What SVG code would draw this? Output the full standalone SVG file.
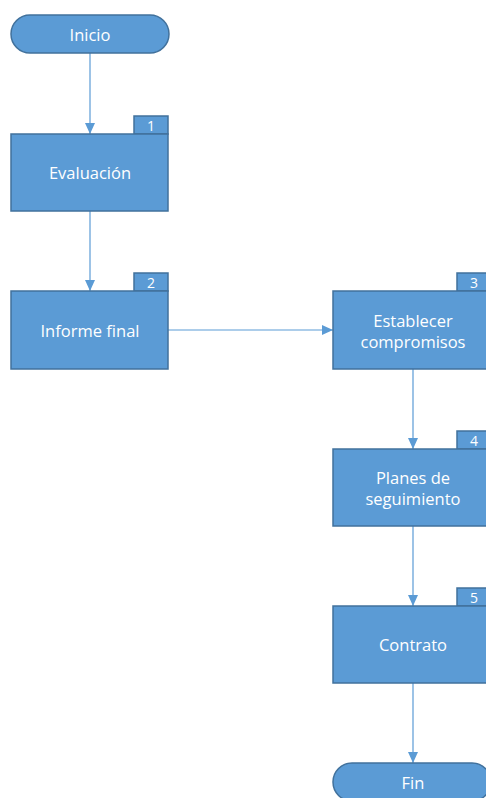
<svg xmlns="http://www.w3.org/2000/svg" width="486" height="798" viewBox="0 0 486 798">
<defs>
<style>
.sh{fill:#5B9BD5;stroke:#41719C;stroke-width:1.5}
.t{fill:#ffffff;font-family:"Open Sans","Liberation Sans",sans-serif;font-size:16.5px;text-anchor:middle;dominant-baseline:central}
.n{fill:#ffffff;font-family:"Open Sans","Liberation Sans",sans-serif;font-size:14px;text-anchor:middle;dominant-baseline:central}
.c{fill:none;stroke:#5B9BD5;stroke-width:1.2}
</style>
<marker id="ah" markerWidth="12" markerHeight="10" refX="11" refY="5" orient="auto" markerUnits="userSpaceOnUse">
<path d="M0,0 L11,5 L0,10 Z" fill="#5B9BD5"/>
</marker>
</defs>
<rect width="486" height="798" fill="#ffffff"/>
<g id="connectors">
<line class="c" x1="90" y1="53" x2="90" y2="134" marker-end="url(#ah)"/>
<line class="c" x1="90" y1="211" x2="90" y2="291" marker-end="url(#ah)"/>
<line class="c" x1="168" y1="330" x2="333" y2="330" marker-end="url(#ah)"/>
<line class="c" x1="413" y1="369" x2="413" y2="449" marker-end="url(#ah)"/>
<line class="c" x1="413" y1="526" x2="413" y2="606" marker-end="url(#ah)"/>
<line class="c" x1="413" y1="683" x2="413" y2="763" marker-end="url(#ah)"/>
</g>
<g id="inicio">
<rect class="sh" x="11" y="15" width="158" height="38" rx="19" ry="19"/>
<text class="t" x="90" y="34">Inicio</text>
</g>
<g id="n1">
<rect class="sh" x="134" y="116" width="34" height="18"/>
<text class="n" x="151" y="125">1</text>
<rect class="sh" x="11" y="134" width="157" height="77"/>
<text class="t" x="90" y="172">Evaluación</text>
</g>
<g id="n2">
<rect class="sh" x="134" y="273" width="34" height="18"/>
<text class="n" x="151" y="282">2</text>
<rect class="sh" x="11" y="291" width="157" height="78"/>
<text class="t" x="90" y="330">Informe final</text>
</g>
<g id="n3">
<rect class="sh" x="457" y="273" width="34" height="18"/>
<text class="n" x="474" y="282">3</text>
<rect class="sh" x="333" y="291" width="158" height="78"/>
<text class="t" x="413" y="320">Establecer</text>
<text class="t" x="413" y="341">compromisos</text>
</g>
<g id="n4">
<rect class="sh" x="457" y="431" width="34" height="18"/>
<text class="n" x="474" y="440">4</text>
<rect class="sh" x="333" y="449" width="158" height="77"/>
<text class="t" x="413" y="477">Planes de</text>
<text class="t" x="413" y="498">seguimiento</text>
</g>
<g id="n5">
<rect class="sh" x="457" y="588" width="34" height="18"/>
<text class="n" x="474" y="597">5</text>
<rect class="sh" x="333" y="606" width="158" height="77"/>
<text class="t" x="413" y="644">Contrato</text>
</g>
<g id="fin">
<rect class="sh" x="333" y="763" width="158" height="38" rx="19" ry="19"/>
<text class="t" x="413" y="782">Fin</text>
</g>
</svg>
